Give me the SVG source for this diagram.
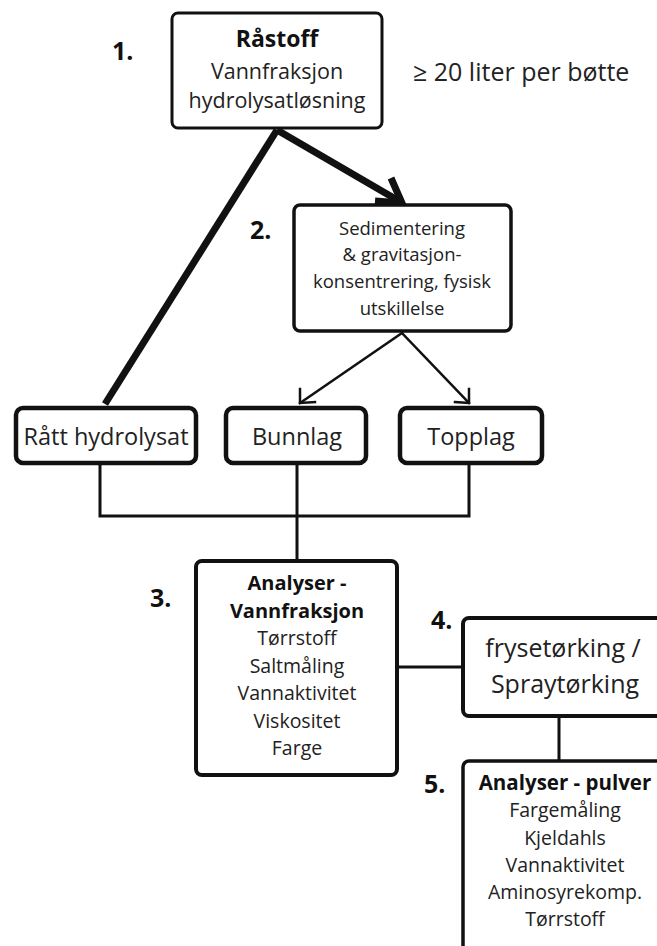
<svg xmlns="http://www.w3.org/2000/svg" width="657" height="946" viewBox="0 0 657 946">
<style>
text{font-family:"Open Sans","Noto Sans","DejaVu Sans",sans-serif;fill:#222;text-anchor:middle}
.b{font-weight:bold;fill:#111}
.num{font-weight:bold;font-size:25px;fill:#111;text-anchor:start}
.box{fill:#fff;stroke:#111;stroke-linejoin:round}
.c{fill:none;stroke:#111;stroke-linecap:square}
</style>
<rect width="657" height="946" fill="#fff"/>
<g id="connectors">
<line class="c" x1="277" y1="130" x2="105" y2="404" style="stroke-width:7;stroke-linecap:butt"/>
<line class="c" x1="277" y1="130" x2="399" y2="201" style="stroke-width:7;stroke-linecap:butt"/>
<polyline class="c" points="391,178 402,203 375,201" style="stroke-width:7;stroke-linejoin:miter;stroke-linecap:butt"/>
<line class="c" x1="402" y1="333" x2="300" y2="403" style="stroke-width:2.5"/>
<polyline class="c" points="300,389 300,403 315,402" style="stroke-width:2.5"/>
<line class="c" x1="402" y1="333" x2="469" y2="403" style="stroke-width:2.5"/>
<polyline class="c" points="455,402 469,403 469,389" style="stroke-width:2.5"/>
<polyline class="c" points="100,465 100,516 469,516 469,465" style="stroke-width:3;stroke-linecap:butt"/>
<line class="c" x1="297" y1="465" x2="297" y2="561" style="stroke-width:3;stroke-linecap:butt"/>
<line class="c" x1="397" y1="667" x2="463" y2="667" style="stroke-width:3;stroke-linecap:butt"/>
<line class="c" x1="559" y1="716" x2="559" y2="761" style="stroke-width:3;stroke-linecap:butt"/>
</g>
<g id="n1">
<rect class="box" x="172" y="13" width="210" height="115" rx="6" stroke-width="3"/>
<text class="b" x="277" y="47" font-size="23">Råstoff</text>
<text x="277" y="79" font-size="21.5">Vannfraksjon</text>
<text x="277" y="108" font-size="21.5">hydrolysatløsning</text>
<text class="num" x="112" y="60">1.</text>
</g>
<g id="note">
<text x="413" y="81" font-size="25" style="text-anchor:start">≥ 20 liter per bøtte</text>
</g>
<g id="n2">
<rect class="box" x="294" y="205" width="217" height="126" rx="6" stroke-width="3.5"/>
<text x="402" y="235" font-size="18.5">Sedimentering</text>
<text x="402" y="261" font-size="18.5">&amp; gravitasjon-</text>
<text x="402" y="288" font-size="18.5">konsentrering, fysisk</text>
<text x="402" y="315" font-size="18.5">utskillelse</text>
<text class="num" x="250" y="239">2.</text>
</g>
<g id="n-raatt">
<rect class="box" x="16" y="408" width="180" height="55" rx="7" stroke-width="4.5"/>
<text x="106" y="445" font-size="23.5">Rått hydrolysat</text>
</g>
<g id="n-bunnlag">
<rect class="box" x="226" y="408" width="140" height="55" rx="7" stroke-width="4.5"/>
<text x="297" y="445" font-size="23.5">Bunnlag</text>
</g>
<g id="n-topplag">
<rect class="box" x="400" y="408" width="142" height="55" rx="7" stroke-width="4.5"/>
<text x="471" y="445" font-size="23.5">Topplag</text>
</g>
<g id="n3">
<rect class="box" x="196" y="561" width="201" height="214" rx="6" stroke-width="4"/>
<text class="b" x="297" y="590" font-size="20">Analyser -</text>
<text class="b" x="297" y="618" font-size="20">Vannfraksjon</text>
<text x="297" y="645" font-size="19.5">Tørrstoff</text>
<text x="297" y="673" font-size="19.5">Saltmåling</text>
<text x="297" y="700" font-size="19.5">Vannaktivitet</text>
<text x="297" y="728" font-size="19.5">Viskositet</text>
<text x="297" y="755" font-size="19.5">Farge</text>
<text class="num" x="150" y="607">3.</text>
</g>
<g id="n4">
<rect class="box" x="463" y="618" width="220" height="98" rx="6" stroke-width="4"/>
<text x="563" y="657" font-size="25">frysetørking /</text>
<text x="565" y="693" font-size="25">Spraytørking</text>
<text class="num" x="431" y="629">4.</text>
</g>
<g id="n5">
<rect class="box" x="463" y="761" width="220" height="200" rx="6" stroke-width="3.5"/>
<text class="b" x="565" y="790" font-size="20.5">Analyser - pulver</text>
<text x="565" y="817" font-size="19.5">Fargemåling</text>
<text x="565" y="845" font-size="19.5">Kjeldahls</text>
<text x="565" y="872" font-size="19.5">Vannaktivitet</text>
<text x="565" y="899" font-size="19.5">Aminosyrekomp.</text>
<text x="565" y="926" font-size="19.5">Tørrstoff</text>
<text class="num" x="424" y="793">5.</text>
</g>
</svg>
